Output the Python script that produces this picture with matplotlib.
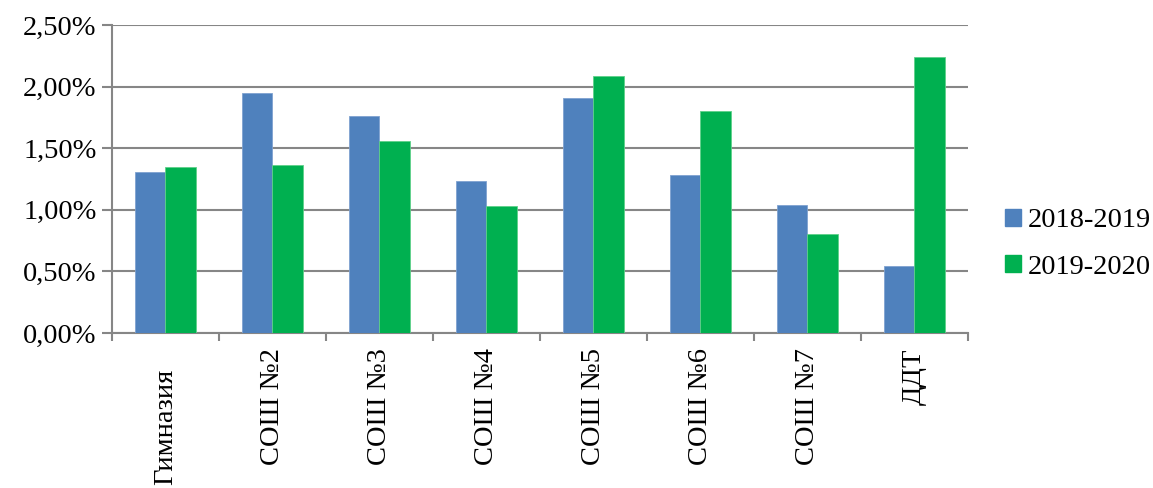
import numpy as np
import matplotlib
matplotlib.use('Agg')
import matplotlib.pyplot as plt
import matplotlib.patches as mpatches
from matplotlib.ticker import FuncFormatter
from matplotlib.transforms import ScaledTranslation

# ── Data ──
categories = ['Гимназия', 'СОШ №2', 'СОШ №3', 'СОШ №4',
              'СОШ №5', 'СОШ №6', 'СОШ №7', 'ДДТ']
series_names = ['2018-2019', '2019-2020']
vals_2018 = [1.31, 1.95, 1.76, 1.23, 1.91, 1.28, 1.04, 0.54]
vals_2019 = [1.35, 1.36, 1.56, 1.03, 2.09, 1.80, 0.80, 2.24]
yticks = [0.0, 0.5, 1.0, 1.5, 2.0, 2.5]

COLORS = ['#4F81BD', '#00B050']
GRID = '#868686'
FONT = 'Liberation Serif'
FS = 20.5

plt.rcParams['font.family'] = [FONT, 'DejaVu Serif']

fig = plt.figure(figsize=(11.53, 4.88), dpi=100)
ax = fig.add_axes([0.0971, 0.3176, 0.7424, 0.6312])

x = np.arange(len(categories))
w = 0.285
ax.bar(x - w/2, vals_2018, width=w, color=COLORS[0],
       edgecolor='#7fa2d0', linewidth=0.6, zorder=3)
ax.bar(x + w/2, vals_2019, width=w, color=COLORS[1],
       edgecolor='#5fd08a', linewidth=0.6, zorder=3)

ax.set_xlim(-0.5, len(categories) - 0.5)
ax.set_ylim(0, 2.5)
ax.set_yticks(yticks)
ax.yaxis.set_major_formatter(FuncFormatter(lambda v, p: f'{v:.2f}%'.replace('.', ',')))
ax.grid(axis='y', color=GRID, linewidth=1.5, zorder=0)
ax.set_axisbelow(True)

# category boundary ticks, labels at centers
ax.set_xticks(np.arange(len(categories) + 1) - 0.5)
ax.set_xticklabels([])
ax.set_xticks(x, minor=True)
ax.set_xticklabels(categories, minor=True, rotation=90, va='top', ha='center',
                   fontsize=FS)
ax.tick_params(axis='x', which='minor', length=0, pad=11)
ax.tick_params(axis='x', which='major', length=6, width=1.5, color=GRID,
               direction='out')
ax.tick_params(axis='y', length=7, width=1.5, color=GRID, labelsize=FS, pad=4)

# the first label sits lower in the reference
first = ax.xaxis.get_minorticklabels()[0]
first.set_transform(first.get_transform() +
                    ScaledTranslation(0, -20 / 100, fig.dpi_scale_trans))

for side in ['top', 'right']:
    ax.spines[side].set_visible(False)
for side in ['left', 'bottom']:
    ax.spines[side].set_color(GRID)
    ax.spines[side].set_linewidth(1.5)

handles = [mpatches.Patch(color=c, label=n) for c, n in zip(COLORS, series_names)]
fig.legend(handles=handles, loc='center left', bbox_to_anchor=(0.862, 0.5),
           frameon=False, fontsize=FS, handlelength=0.55, handleheight=0.55,
           handletextpad=0.25, labelspacing=0.75, borderaxespad=0)

plt.savefig('out.png', dpi=100)
